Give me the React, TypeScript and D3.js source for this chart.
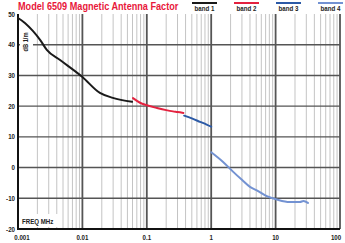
import React from "react";
import * as d3 from "d3";

const W = 345;
const H = 243;

const title = "Model 6509 Magnetic Antenna Factor";
const xTicks = [0.001, 0.01, 0.1, 1, 10, 100];
const xTickLabels = ["0.001", "0.01", "0.1", "1", "10", "100"];
const yTicks = [50, 40, 30, 20, 10, 0, -10, -20];
const yLabel = "dB 1/m";
const xLabel = "FREQ MHz";

const bandNames = ["band 1", "band 2", "band 3", "band 4"];
const bandColors = ["#1a1a1a", "#e3223f", "#2c5aa6", "#7392d2"];

const band1: [number, number][] = [
  [0.001, 48.7], [0.00128, 47.1], [0.0017, 44.5], [0.0022, 41.6], [0.0028, 38.3],
  [0.0045, 35.0], [0.01, 29.5], [0.0187, 24.3], [0.0297, 22.7], [0.059, 21.4],
];
const band2: [number, number][] = [
  [0.061, 22.6], [0.0785, 21.1], [0.1, 20.3], [0.144, 19.4], [0.2, 18.7],
  [0.255, 18.3], [0.3, 18.1], [0.37, 17.8],
];
const band3: [number, number][] = [
  [0.38, 16.9], [0.5, 16.0], [0.67, 14.9], [0.85, 14.0], [1.0, 13.3],
];
const band4: [number, number][] = [
  [1.0, 5.0], [1.5, 2.0], [2.2, -1.4], [3.0, -4.0], [4.0, -6.3], [5.1, -7.4],
  [7.3, -9.3], [10.5, -10.4], [16.5, -11.2], [23.9, -11.2], [27, -10.9], [31.8, -11.5],
];
const bands = [band1, band2, band3, band4];

const FONT = "'Liberation Sans Narrow', 'Liberation Sans', Arial, sans-serif";
const SQ = 0.82; // horizontal condensing for the narrow look

export default function App() {
  const x = d3.scaleLog().domain([0.001, 100]).range([18, 340]);
  const y = d3.scaleLinear().domain([-20, 50]).range([229, 14]);

  const minor: number[] = [];
  for (let d = 0.001; d < 99; d *= 10) {
    for (let k = 2; k <= 9; k++) minor.push(d * k);
  }

  const line = d3
    .line<[number, number]>()
    .x((d) => x(d[0]))
    .y((d) => y(d[1]))
    .curve(d3.curveMonotoneX);

  const legendX = [192, 234, 276, 318];

  return (
    <svg
      width={W}
      height={H}
      style={{ position: "absolute", left: 0, top: 0, background: "#fff" }}
      fontFamily={FONT}
    >
      {/* minor grid */}
      {minor.map((m, i) => (
        <line key={"m" + i} x1={x(m)} x2={x(m)} y1={y(50)} y2={y(-20)} stroke="#c4c4c4" strokeWidth={1} />
      ))}
      {/* horizontal grid */}
      {yTicks.filter((t) => t > -20 && t < 50).map((t) => (
        <line key={"h" + t} x1={x(0.001)} x2={x(100)} y1={y(t)} y2={y(t)} stroke="#555" strokeWidth={1.4} />
      ))}
      {/* decade lines */}
      {xTicks.slice(1).map((t) => (
        <line key={"d" + t} x1={x(t)} x2={x(t)} y1={y(50)} y2={y(-20)} stroke="#555" strokeWidth={1.8} />
      ))}
      {/* label backgrounds */}
      <rect x={20} y={28} width={13} height={26} fill="#fff" />
      <rect x={20} y={214} width={40} height={13} fill="#fff" />
      {/* axes */}
      <line x1={x(0.001)} x2={x(0.001)} y1={y(50)} y2={y(-20) + 1} stroke="#111" strokeWidth={2} />
      <line x1={x(0.001) - 1} x2={x(100)} y1={y(-20)} y2={y(-20)} stroke="#111" strokeWidth={2} />

      {/* curves */}
      {bands.map((b, i) => (
        <path key={"b" + i} d={line(b) || ""} fill="none" stroke={bandColors[i]} strokeWidth={2} strokeLinecap="round" />
      ))}

      {/* y tick labels */}
      {yTicks.map((t) => (
        <text
          key={"yt" + t}
          transform={`translate(15,${y(t) + 2.5}) scale(${SQ},1)`}
          textAnchor="end"
          fontSize={7.5}
          fontWeight="bold"
          fill="#222"
        >
          {t}
        </text>
      ))}
      {/* x tick labels */}
      {xTicks.map((t, i) => (
        <text
          key={"xt" + t}
          transform={`translate(${Math.min(Math.max(x(t), 22), 336)},240) scale(${SQ},1)`}
          textAnchor="middle"
          fontSize={7.5}
          fontWeight="bold"
          fill="#222"
        >
          {xTickLabels[i]}
        </text>
      ))}

      {/* axis labels */}
      <text transform={`translate(27.5,42) rotate(-90) scale(${SQ},1)`} textAnchor="middle" fontSize={7} fontWeight="bold" fill="#222">
        {yLabel}
      </text>
      <text transform={`translate(22,224) scale(${SQ},1)`} fontSize={7.5} fontWeight="bold" fill="#222">
        {xLabel}
      </text>

      {/* title */}
      <text transform="translate(18,10) scale(0.87,1)" fontSize={10.5} fontWeight="bold" fill="#e8173a">
        {title}
      </text>

      {/* legend */}
      {bandNames.map((n, i) => (
        <g key={"lg" + i}>
          <line x1={legendX[i]} x2={legendX[i] + 25} y1={3} y2={3} stroke={bandColors[i]} strokeWidth={2} />
          <text
            transform={`translate(${legendX[i] + 12.5},11) scale(${SQ},1)`}
            textAnchor="middle"
            fontSize={7.5}
            fontWeight="bold"
            fill="#222"
          >
            {n}
          </text>
        </g>
      ))}
    </svg>
  );
}
